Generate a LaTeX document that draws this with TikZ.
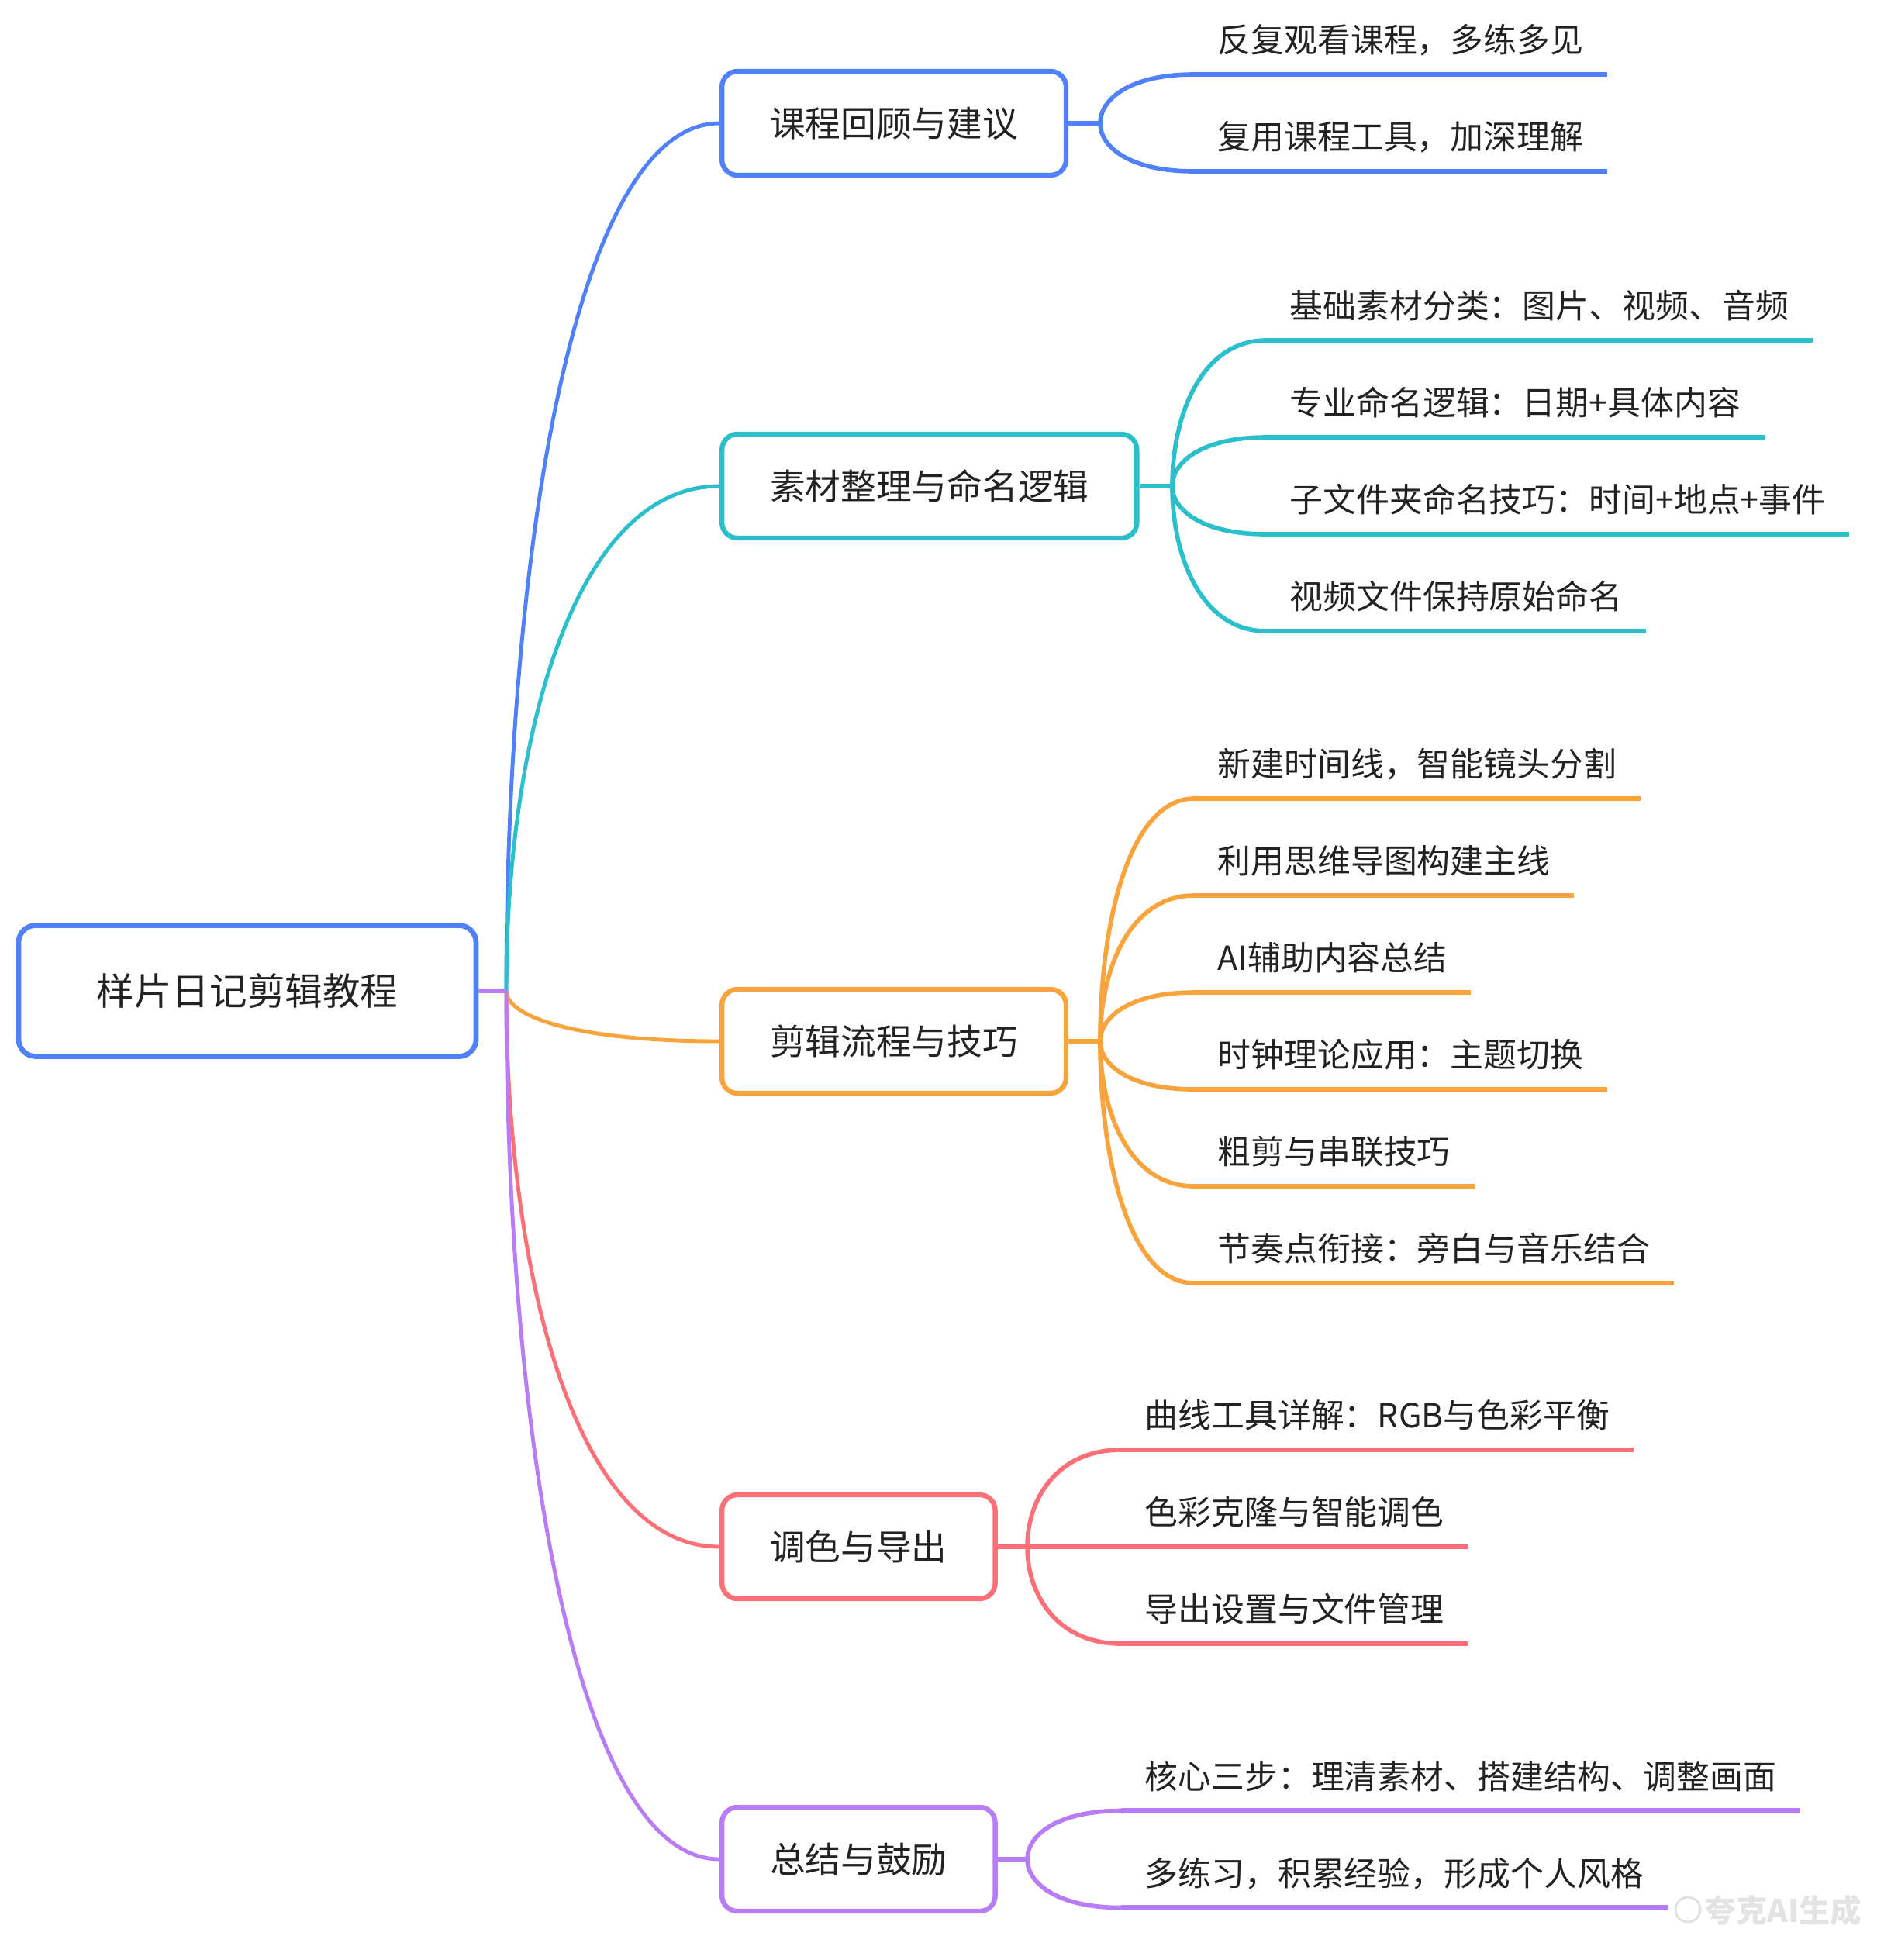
\documentclass[tikz,border=0pt]{standalone}
\usepackage{fontspec}
\setmainfont{Noto Sans CJK SC}
\usepackage{xcolor}
\usetikzlibrary{positioning}
\usetikzlibrary{calc}

\definecolor{cblue}{HTML}{4F81FF}
\definecolor{cteal}{HTML}{2BBECB}
\definecolor{corange}{HTML}{F9A33D}
\definecolor{cred}{HTML}{FF6F78}
\definecolor{cpurple}{HTML}{B87CF7}
\definecolor{ctext}{HTML}{222222}

\begin{document}
\begin{tikzpicture}[
    topic/.style={rectangle, rounded corners=0.2cm, draw, line width=1.8pt, fill=white, anchor=west, inner xsep=0.62cm, minimum height=1.34cm, text=ctext, font=\fontsize{13}{15}\selectfont},
    leaf/.style={anchor=south west, inner xsep=0.3cm, inner ysep=0pt, text height=0.45cm, text depth=0.275cm, text=ctext, font=\fontsize{12.2}{14}\selectfont},
    rootcurve/.style={line width=1.4pt, to path={.. controls ($(\tikztostart)!0.5!(\tikztostart |- \tikztotarget)$) and ($(\tikztotarget)+(-1.88,0)$) .. (\tikztotarget)}},
    leafcurve/.style={line width=1.6pt, to path={.. controls ($(\tikztostart)!0.5!(\tikztostart |- \tikztotarget)$) and ($(\tikztotarget)+(-0.82,0)$) .. (\tikztotarget)}},
    stub/.style={line width=1.8pt},
    underline/.style={line width=1.8pt}
]
    \useasboundingbox (0,0) rectangle (24.38,-25.28);

    % Root
    \node[rectangle, rounded corners=0.22cm, draw=cblue, line width=1.9pt, fill=white, minimum width=5.9cm, minimum height=1.69cm, text=ctext, font=\fontsize{13.8}{16}\selectfont] (root) at (3.19,-12.78) {样片日记剪辑教程};
    \coordinate (hub0) at (6.53,-12.78);

    % Main topics
    \node[topic, draw=cblue] (review) at (9.28,-1.59) {课程回顾与建议};
    \node[topic, draw=cteal] (assets) at (9.28,-6.27) {素材整理与命名逻辑};
    \node[topic, draw=corange] (editing) at (9.28,-13.43) {剪辑流程与技巧};
    \node[topic, draw=cred] (grading) at (9.28,-19.95) {调色与导出};
    \node[topic, draw=cpurple] (summary) at (9.28,-23.98) {总结与鼓励};

    \draw[rootcurve, cblue] (hub0) to (review.west);
    \draw[rootcurve, cteal] (hub0) to (assets.west);
    \draw[rootcurve, corange] (hub0) to (editing.west);
    \draw[rootcurve, cred] (hub0) to (grading.west);
    \draw[rootcurve, cpurple] (hub0) to (summary.west);
    \draw[stub, cpurple] (root.east) -- (hub0);

    % Review
    \coordinate (hub1) at (14.19,-1.59);
    \draw[stub, cblue] (review.east) -- (hub1);
    \node[leaf] (review1) at (15.40,-0.96) {反复观看课程，多练多见};
    \node[leaf] (review2) at (15.40,-2.21) {复用课程工具，加深理解};
    \draw[leafcurve, cblue] (hub1) to (review1.south west);
    \draw[leafcurve, cblue] (hub1) to (review2.south west);
    \draw[underline, cblue] (review1.south west) -- (review1.south east);
    \draw[underline, cblue] (review2.south west) -- (review2.south east);

    % Assets
    \coordinate (hub2) at (15.12,-6.27);
    \draw[stub, cteal] (assets.east) -- (hub2);
    \node[leaf] (assets1) at (16.33,-4.39) {基础素材分类：图片、视频、音频};
    \node[leaf] (assets2) at (16.33,-5.64) {专业命名逻辑：日期+具体内容};
    \node[leaf] (assets3) at (16.33,-6.89) {子文件夹命名技巧：时间+地点+事件};
    \node[leaf] (assets4) at (16.33,-8.14) {视频文件保持原始命名};
    \draw[leafcurve, cteal] (hub2) to (assets1.south west);
    \draw[leafcurve, cteal] (hub2) to (assets2.south west);
    \draw[leafcurve, cteal] (hub2) to (assets3.south west);
    \draw[leafcurve, cteal] (hub2) to (assets4.south west);
    \draw[underline, cteal] (assets1.south west) -- (assets1.south east);
    \draw[underline, cteal] (assets2.south west) -- (assets2.south east);
    \draw[underline, cteal] (assets3.south west) -- (assets3.south east);
    \draw[underline, cteal] (assets4.south west) -- (assets4.south east);

    % Editing
    \coordinate (hub3) at (14.19,-13.43);
    \draw[stub, corange] (editing.east) -- (hub3);
    \node[leaf] (editing1) at (15.40,-10.30) {新建时间线，智能镜头分割};
    \node[leaf] (editing2) at (15.40,-11.55) {利用思维导图构建主线};
    \node[leaf] (editing3) at (15.40,-12.80) {AI辅助内容总结};
    \node[leaf] (editing4) at (15.40,-14.05) {时钟理论应用：主题切换};
    \node[leaf] (editing5) at (15.40,-15.30) {粗剪与串联技巧};
    \node[leaf] (editing6) at (15.40,-16.55) {节奏点衔接：旁白与音乐结合};
    \draw[leafcurve, corange] (hub3) to (editing1.south west);
    \draw[leafcurve, corange] (hub3) to (editing2.south west);
    \draw[leafcurve, corange] (hub3) to (editing3.south west);
    \draw[leafcurve, corange] (hub3) to (editing4.south west);
    \draw[leafcurve, corange] (hub3) to (editing5.south west);
    \draw[leafcurve, corange] (hub3) to (editing6.south west);
    \draw[underline, corange] (editing1.south west) -- (editing1.south east);
    \draw[underline, corange] (editing2.south west) -- (editing2.south east);
    \draw[underline, corange] (editing3.south west) -- (editing3.south east);
    \draw[underline, corange] (editing4.south west) -- (editing4.south east);
    \draw[underline, corange] (editing5.south west) -- (editing5.south east);
    \draw[underline, corange] (editing6.south west) -- (editing6.south east);

    % Grading
    \coordinate (hub4) at (13.25,-19.95);
    \draw[stub, cred] (grading.east) -- (hub4);
    \node[leaf] (grading1) at (14.46,-18.70) {曲线工具详解：RGB与色彩平衡};
    \node[leaf] (grading2) at (14.46,-19.95) {色彩克隆与智能调色};
    \node[leaf] (grading3) at (14.46,-21.20) {导出设置与文件管理};
    \draw[leafcurve, cred] (hub4) to (grading1.south west);
    \draw[leafcurve, cred] (hub4) to (grading2.south west);
    \draw[leafcurve, cred] (hub4) to (grading3.south west);
    \draw[underline, cred] (grading1.south west) -- (grading1.south east);
    \draw[underline, cred] (grading2.south west) -- (grading2.south east);
    \draw[underline, cred] (grading3.south west) -- (grading3.south east);

    % Summary
    \coordinate (hub5) at (13.25,-23.98);
    \draw[stub, cpurple] (summary.east) -- (hub5);
    \node[leaf] (summary1) at (14.46,-23.355) {核心三步：理清素材、搭建结构、调整画面};
    \node[leaf] (summary2) at (14.46,-24.605) {多练习，积累经验，形成个人风格};
    \draw[leafcurve, cpurple] (hub5) to (summary1.south west);
    \draw[leafcurve, cpurple] (hub5) to (summary2.south west);
    \draw[underline, cpurple] (summary1.south west) -- (summary1.south east);
    \draw[underline, cpurple] (summary2.south west) -- (summary2.south east);

    % Watermark
    \node[circle, draw=gray!25, line width=0.8pt, minimum size=0.32cm, inner sep=0pt] (markicon) at (21.77,-24.63) {};
    \node[anchor=west, inner sep=0pt, text=gray!22, font=\fontsize{11.5}{13}\selectfont\bfseries] (marktext) at (21.98,-24.64) {夸克AI生成};
\end{tikzpicture}
\end{document}
